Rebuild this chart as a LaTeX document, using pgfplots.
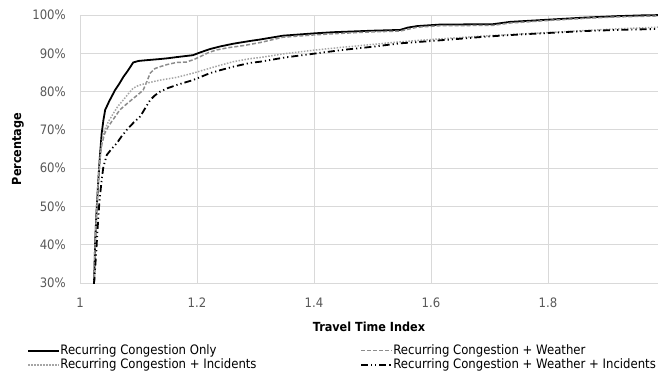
\documentclass[border=0pt]{standalone}
\usepackage{pgfplots}
\pgfplotsset{compat=1.18}
\usepackage{fontspec}
\setmainfont{DejaVu Sans Condensed}
\definecolor{tickgray}{HTML}{595959}
\definecolor{gridgray}{HTML}{D9D9D9}
\definecolor{wgray}{HTML}{8C8C8C}
\definecolor{igray}{HTML}{A6A6A6}
\begin{document}
\begin{tikzpicture}
\begin{axis}[
  name=main,
  scale only axis,
  width=578bp, height=268bp,
  xmin=1, xmax=1.988, ymin=30, ymax=100,
  xtick={1,1.2,1.4,1.6,1.8},
  xticklabels={1,1.2,1.4,1.6,1.8},
  ytick={30,40,50,60,70,80,90,100},
  yticklabels={30\%,40\%,50\%,60\%,70\%,80\%,90\%,100\%},
  grid=major,
  grid style={gridgray, line width=0.8bp},
  axis line style={draw=none},
  major tick length=0pt,
  tick style={draw=none},
  ticklabel style={font=\fontsize{13bp}{15bp}\selectfont, text=tickgray},
  yticklabel style={inner sep=0pt, xshift=-14bp},
  xticklabel style={inner sep=0pt, yshift=-15bp},
  xlabel={\textbf{Travel Time Index}},
  ylabel={\textbf{Percentage}},
  label style={font=\fontsize{12.5bp}{14bp}\selectfont},
  xlabel style={at={(axis description cs:0.5,-0.164)}, anchor=center},
  ylabel style={at={(axis description cs:-0.1073,0.5)}, anchor=center, rotate=0},
  clip=true,
  legend columns=2,
  legend cell align=left,
  legend image code/.code={\draw[#1] (0bp,0bp) -- (31bp,0bp);},
  legend style={
    at={(-0.0917,-0.2276)}, anchor=north west,
    draw=none, fill=none, inner sep=0pt,
    font=\fontsize{13bp}{14bp}\selectfont,
    nodes={inner sep=0.5bp, text height=9.5bp, text depth=2.5bp},
    row sep=1.5bp,
    /tikz/column 2/.style={column sep=103bp},
  },
]
\addplot[black, line width=1.8bp] coordinates {
(1.020,25)(1.024,30)(1.026,41)(1.028,48)(1.031,56)(1.033,61)(1.035,65)(1.037,69)(1.040,72.5)(1.043,75.2)(1.050,77.5)(1.060,80.4)(1.067,82)(1.074,83.8)(1.082,85.5)(1.091,87.6)(1.100,88.0)(1.114,88.2)(1.137,88.5)(1.150,88.7)(1.165,89.0)(1.193,89.5)(1.205,90.2)(1.222,91.1)(1.240,91.8)(1.262,92.5)(1.290,93.2)(1.308,93.6)(1.347,94.6)(1.400,95.2)(1.432,95.5)(1.500,95.9)(1.547,96.1)(1.560,96.7)(1.576,97.1)(1.615,97.5)(1.706,97.6)(1.735,98.2)(1.803,98.8)(1.860,99.3)(1.918,99.7)(1.960,99.9)(2.0,100)
};
\addlegendentry{Recurring Congestion Only}
\addplot[wgray, line width=1.5bp, dash pattern=on 4bp off 2bp] coordinates {
(1.020,25)(1.024,30)(1.026,40)(1.028,47)(1.031,56)(1.034,62)(1.037,66)(1.042,69)(1.048,70.8)(1.058,73)(1.068,75.2)(1.080,76.8)(1.091,78.2)(1.100,79.3)(1.108,80.4)(1.114,82.5)(1.120,84.8)(1.128,86)(1.137,86.5)(1.150,87.1)(1.165,87.6)(1.182,87.7)(1.195,88.4)(1.205,89.1)(1.220,90.2)(1.234,90.9)(1.255,91.5)(1.279,92.0)(1.308,92.8)(1.347,94.2)(1.400,94.8)(1.432,95.1)(1.500,95.6)(1.547,95.8)(1.576,96.8)(1.615,97.2)(1.706,97.3)(1.735,97.9)(1.803,98.6)(1.860,99.1)(1.918,99.5)(2.0,99.8)
};
\addlegendentry{Recurring Congestion + Weather}
\addplot[igray, line width=1.5bp, dash pattern=on 1.5bp off 1.5bp] coordinates {
(1.020,25)(1.024,30)(1.026,40)(1.028,48)(1.031,57)(1.033,61)(1.036,65)(1.040,69.2)(1.048,72)(1.057,74.3)(1.065,76.2)(1.074,77.8)(1.083,79.5)(1.091,80.9)(1.100,81.6)(1.114,82.2)(1.137,83.0)(1.165,83.7)(1.193,84.8)(1.222,86.1)(1.240,86.9)(1.262,87.8)(1.291,88.6)(1.308,88.9)(1.350,89.9)(1.405,90.9)(1.450,91.6)(1.500,92.3)(1.547,93.0)(1.600,93.6)(1.650,94.1)(1.689,94.5)(1.750,95.0)(1.800,95.4)(1.860,95.9)(1.920,96.4)(2.0,96.9)
};
\addlegendentry{Recurring Congestion + Incidents}
\addplot[black, line width=1.8bp, dash pattern=on 7bp off 3bp on 1.2bp off 3bp on 1.2bp off 3bp] coordinates {
(1.020,25)(1.0245,30.8)(1.028,38.6)(1.0296,43.1)(1.033,50.9)(1.037,56.9)(1.040,60.4)(1.046,63.5)(1.055,65.2)(1.063,66.5)(1.071,68.3)(1.080,70.0)(1.091,71.8)(1.103,73.5)(1.112,75.8)(1.120,77.8)(1.128,79.0)(1.137,80.0)(1.150,80.9)(1.165,81.7)(1.193,83.0)(1.222,84.8)(1.240,85.6)(1.262,86.5)(1.291,87.5)(1.308,87.8)(1.350,88.9)(1.405,90.0)(1.450,90.9)(1.500,91.7)(1.547,92.6)(1.600,93.2)(1.650,93.8)(1.689,94.3)(1.750,94.9)(1.800,95.3)(1.860,95.8)(1.920,96.1)(2.0,96.4)
};
\addlegendentry{Recurring Congestion + Weather + Incidents}
\end{axis}
\pgfresetboundingbox
\path (main.south west) ++(-80bp,-94bp) rectangle ++(658bp,377bp);
\end{tikzpicture}
\end{document}
